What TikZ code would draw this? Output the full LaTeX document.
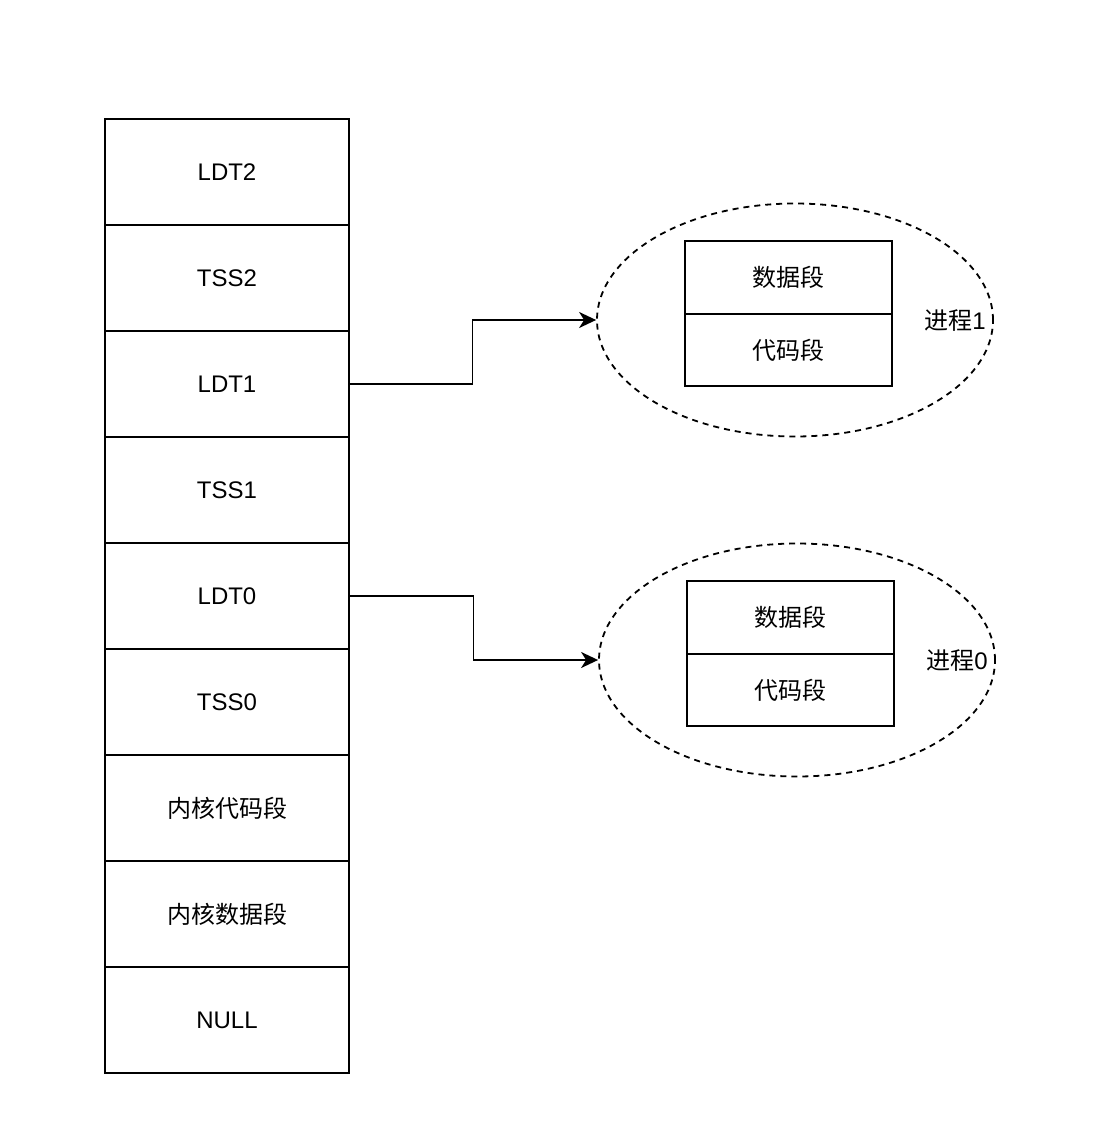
\documentclass[tikz,border=0pt]{standalone}
\usepackage{fontspec}
\setmainfont{Liberation Sans}
\newfontfamily\cjk{Noto Sans CJK SC}
\usetikzlibrary{arrows.meta, positioning, shapes.geometric, calc}

\begin{document}
\begin{tikzpicture}[
        x=1pt, y=-1pt,
        font=\fontsize{24}{28}\selectfont,
        line width=1.8pt,
        cell/.style={draw, rectangle, minimum width=244pt, minimum height=106pt, outer sep=0pt, align=center},
        seg/.style={draw, rectangle, minimum width=207pt, minimum height=72.5pt, outer sep=0pt},
        proc/.style={draw, ellipse, dash pattern=on 6pt off 5pt, minimum width=396pt, minimum height=233pt, inner sep=0pt},
        link/.style={-{Stealth[length=17pt, width=16pt, inset=5pt]}},
        node distance=0pt
    ]
        \useasboundingbox (0,0) rectangle (1100,1126);

        % descriptor table
        \node[cell] (ldt2) at (227,172) {LDT2};
        \node[cell, below=of ldt2] (tss2) {TSS2};
        \node[cell, below=of tss2] (ldt1) {LDT1};
        \node[cell, below=of ldt1] (tss1) {TSS1};
        \node[cell, below=of tss1] (ldt0) {LDT0};
        \node[cell, below=of ldt0] (tss0) {TSS0};
        \node[cell, below=of tss0] (kcode) {{\cjk 内核代码段}};
        \node[cell, below=of kcode] (kdata) {{\cjk 内核数据段}};
        \node[cell, below=of kdata] (null) {NULL};

        % process 1
        \node[proc] (p1) at (795,320) {};
        \node[seg] (p1data) at (788.5,277.5) {{\cjk 数据段}};
        \node[seg, below=of p1data] (p1code) {{\cjk 代码段}};
        \node (p1label) at (955,321) {{\cjk 进程}1};

        % process 0
        \node[proc] (p0) at (797,660) {};
        \node[seg] (p0data) at (790.5,617.5) {{\cjk 数据段}};
        \node[seg, below=of p0data] (p0code) {{\cjk 代码段}};
        \node (p0label) at (957,661) {{\cjk 进程}0};

        % links
        \coordinate (bend1) at ($(ldt1.east)!0.5!(p1.west)$);
        \coordinate (bend0) at ($(ldt0.east)!0.5!(p0.west)$);
        \draw[link] (ldt1.east) -| (bend1) |- (p1.west);
        \draw[link] (ldt0.east) -| (bend0) |- (p0.west);
    \end{tikzpicture}
\end{document}
